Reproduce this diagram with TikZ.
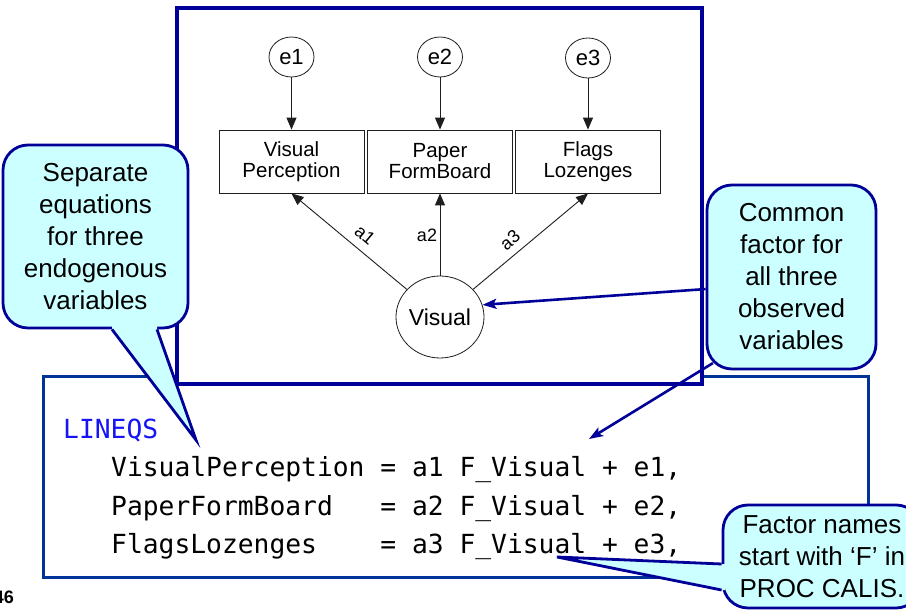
\documentclass[tikz,border=0pt]{standalone}
\usepackage{fontspec}
\setmainfont{Liberation Sans}
\setmonofont{DejaVu Sans Mono}
\usetikzlibrary{arrows.meta,shapes.geometric,calc}

\definecolor{frameblue}{RGB}{0,0,153}
\definecolor{codeblue}{RGB}{0,51,153}
\definecolor{calloutfill}{RGB}{204,255,255}
\definecolor{keyword}{RGB}{20,20,245}
\definecolor{ink}{RGB}{30,30,30}

\tikzset{
  obsbox/.style={draw=ink, line width=0.8pt, minimum width=145pt, minimum height=63pt,
    inner sep=0pt, align=center, font=\fontsize{20.5}{21}\selectfont},
  errvar/.style={ellipse, draw=ink, line width=0.8pt, minimum width=45pt,
    minimum height=40pt, inner sep=0pt, font=\fontsize{22}{24}\selectfont},
  latent/.style={ellipse, draw=ink, line width=0.8pt, minimum width=86pt,
    minimum height=82pt, inner sep=0pt, font=\fontsize{23}{25}\selectfont},
  path arrow/.style={draw=ink, line width=0.9pt, -{Triangle[length=12pt,width=10pt]}},
  coef/.style={font=\fontsize{18}{20}\selectfont, inner sep=0pt},
  callout/.style={draw=frameblue, fill=calloutfill, line width=2.8pt, rounded corners=25pt,
    align=center, inner sep=0pt, font=\fontsize{26}{32}\selectfont},
  tail fill/.style={fill=calloutfill},
  tail edge/.style={draw=frameblue, line width=2.8pt, line join=miter},
  note arrow/.style={draw=frameblue, line width=2.6pt,
    -{Stealth[length=14pt,width=10pt,inset=3pt]}},
  code/.style={font=\ttfamily\fontsize{26.3}{30}\selectfont, anchor=base west, inner sep=0pt},
}

\begin{document}
\begin{tikzpicture}[x=1pt,y=-1pt]
\useasboundingbox (0,0) rectangle (906,612);

% code panel
\draw[codeblue, line width=3pt] (43,377) rectangle (868,577);
% path-diagram frame
\draw[frameblue, fill=white, line width=3.5pt] (177,8) rectangle (702,384);

% error terms
\node[errvar] (e1) at (291.5,57) {e1};
\node[errvar] (e2) at (440,57) {e2};
\node[errvar] (e3) at (588,58) {e3};

% observed variables
\node[obsbox] (vp) at (291.5,161.5) {Visual\\Perception};
\node[obsbox] (pf) at (440,161.5) {Paper\\FormBoard};
\node[obsbox] (fl) at (588,161.5) {Flags\\Lozenges};

% latent factor
\node[latent] (vis) at (440,317) {Visual};

\draw[path arrow] (e1) -- (vp);
\draw[path arrow] (e2) -- (pf);
\draw[path arrow] (e3) -- (fl);
\draw[path arrow] (vis) -- (vp.south);
\draw[path arrow] (vis) -- (pf.south);
\draw[path arrow] (vis) -- (fl.south);

\node[coef, rotate=-40] (la1) at (365,235) {a1};
\node[coef] (la2) at (427,235) {a2};
\node[coef, rotate=40] (la3) at (510,240) {a3};

% LINEQS statement
\node[code, text=keyword] (kw) at (63,439) {LINEQS};
\node[code] (eq1) at (111,477) {VisualPerception = a1 F\_Visual + e1,};
\node[code] (eq2) at (111,515) {PaperFormBoard\ \ \ = a2 F\_Visual + e2,};
\node[code] (eq3) at (111,553) {FlagsLozenges\ \ \ \ = a3 F\_Visual + e3,};

% page number
\node[font=\bfseries\fontsize{18}{20}\selectfont, anchor=base east, inner sep=0pt] (pg) at (14,603) {46};

% callout: common factor
\coordinate (cfTip) at (589,439);
\node[callout, minimum width=169pt, minimum height=184pt] (cf) at (791.5,277)
  {Common\\factor for\\all three\\observed\\variables};
\draw[note arrow] (cf.188) -- (vis.16);
\draw[note arrow] ($(cf.south west)+(7.3,-7.3)$) -- (cfTip);

% callout: separate equations
\coordinate (lcTip) at (196,440);
\node[callout, minimum width=185pt, minimum height=183pt] (lc) at (95.5,236.5)
  {Separate\\equations\\for three\\endogenous\\variables};
\fill[tail fill] ($(lc.south)+(16.5,-4)$) -- ($(lc.south)+(16.5,0)$) -- (lcTip)
  -- ($(lc.south)+(61.5,0)$) -- ($(lc.south)+(61.5,-4)$) -- cycle;
\draw[tail edge] ($(lc.south)+(16.5,0)$) -- (lcTip) -- ($(lc.south)+(61.5,0)$);

% callout: factor names
\coordinate (rcTip) at (557,557);
\node[callout, minimum width=198pt, minimum height=103pt] (rc) at (822,556.5)
  {Factor names\\start with ‘F’ in\\PROC CALIS.};
\fill[tail fill] ($(rc.west)+(4,7.5)$) -- ($(rc.west)+(0,7.5)$) -- (rcTip)
  -- ($(rc.west)+(0,33.5)$) -- ($(rc.west)+(4,33.5)$) -- cycle;
\draw[tail edge] ($(rc.west)+(0,7.5)$) -- (rcTip) -- ($(rc.west)+(0,33.5)$);
\end{tikzpicture}
\end{document}
